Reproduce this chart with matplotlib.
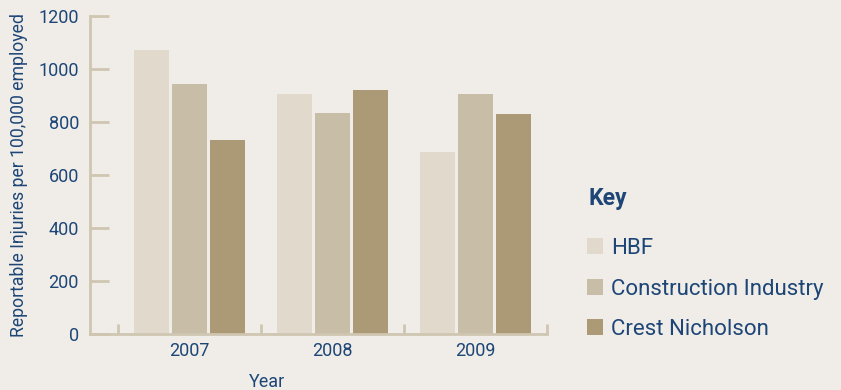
import matplotlib.pyplot as plt
import numpy as np

# ── Data ──────────────────────────────────────────────────────────────────────
years = ["2007", "2008", "2009"]
hbf = [1072, 906, 687]
construction = [943, 834, 906]
crest = [732, 921, 830]
series_names = ["HBF", "Construction Industry", "Crest Nicholson"]

# ── Style ─────────────────────────────────────────────────────────────────────
BG = "#f0ede8"
NAVY = "#1d4677"
AXIS = "#cfc6b2"
colors = ["#e0d9cc", "#c8bea7", "#ab9a75"]
plt.rcParams["font.family"] = ["Roboto", "DejaVu Sans"]

W, H = 841, 390
fig = plt.figure(figsize=(W / 100, H / 100), dpi=100, facecolor=BG)
ax = fig.add_axes([90 / W, 56 / H, 457 / W, 318 / H], facecolor=BG)

x = np.arange(len(years))
width = 0.245
step = 0.266
bars = []
for k, (vals, name) in enumerate(zip([hbf, construction, crest], series_names)):
    b = ax.bar(x + (k - 1) * step, vals, width, color=colors[k], label=name, zorder=2)
    bars.append(b)

ax.set_xlim(-0.696, 2.5)
ax.set_ylim(0, 1200)

# axes lines
for side in ["top", "right"]:
    ax.spines[side].set_visible(False)
for side in ["left", "bottom"]:
    ax.spines[side].set_color(AXIS)
    ax.spines[side].set_linewidth(2)

ax.set_yticks(range(0, 1201, 200))
ax.tick_params(axis="y", direction="in", length=14, width=2, color=AXIS,
               labelcolor=NAVY, labelsize=13, pad=8)
ax.set_xticks(x)
ax.set_xticklabels(years)
ax.tick_params(axis="x", length=0, labelcolor=NAVY, labelsize=13, pad=6)
# group separator ticks (pointing up)
ax.set_xticks(np.arange(-0.5, 2.6, 1.0), minor=True)
ax.tick_params(axis="x", which="minor", direction="in", length=7, width=2, color=AXIS)

ax.set_ylabel("Reportable Injuries per 100,000 employed", color=NAVY, fontsize=12.7)
ax.yaxis.set_label_coords(-62 / 457, 0.5)
fig.text(267 / W, 1 - 382 / H, "Year", color=NAVY, fontsize=13, ha="center", va="center")

# key
fig.text(588 / W, 1 - 198 / H, "Key", color=NAVY, fontsize=16.5, fontweight="bold",
         ha="left", va="center")
leg = fig.legend(handles=bars, labels=series_names, loc="upper left",
                 bbox_to_anchor=(567 / W, 1 - 218 / H), frameon=False,
                 fontsize=16, labelcolor=NAVY,
                 handlelength=0.72, handleheight=0.72, handletextpad=0.36,
                 labelspacing=0.88)

fig.savefig("out.png", dpi=100, facecolor=BG)
